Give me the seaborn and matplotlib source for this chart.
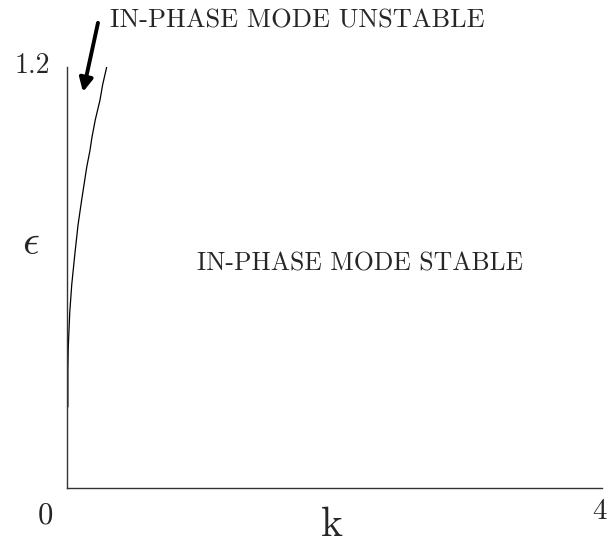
import matplotlib
matplotlib.use("Agg")
import matplotlib.pyplot as plt
import seaborn as sns

# boundary curve
k_boundary = [0.010, 0.010, 0.013, 0.024, 0.039, 0.063, 0.086, 0.113,
              0.151, 0.175, 0.190, 0.215, 0.25, 0.27, 0.30]
eps_boundary = [0.231, 0.336, 0.402, 0.500, 0.580, 0.670, 0.750, 0.821,
                0.915, 0.962, 1.000, 1.050, 1.106, 1.150, 1.2]

x_tick_labels = ["0", "4"]
y_top_label = "1.2"
label_unstable = "IN-PHASE MODE UNSTABLE"
label_stable = "IN-PHASE MODE STABLE"

sns.set_style("white")
plt.rcParams["font.family"] = ["cmr10", "DejaVu Serif"]
plt.rcParams["mathtext.fontset"] = "cm"
plt.rcParams["axes.formatter.use_mathtext"] = True

fig = plt.figure(figsize=(6.16, 5.46), dpi=100)
ax = fig.add_axes([0.108, 0.1062, 0.8693, 0.771])

sns.lineplot(x=k_boundary, y=eps_boundary, sort=False, estimator=None,
             color="black", linewidth=0.9, ax=ax)

ax.set_xlim(0, 4)
ax.set_ylim(0, 1.2)
ax.set_xticks([])
ax.set_yticks([])
for side in ["top", "right"]:
    ax.spines[side].set_visible(False)
for side in ["left", "bottom"]:
    ax.spines[side].set_color("#333333")
    ax.spines[side].set_linewidth(1.0)

# hand placed tick labels, like the original
ax.text(-0.16, -0.08, x_tick_labels[0], fontsize=22, ha="center", va="center", clip_on=False)
ax.text(3.984, -0.068, x_tick_labels[1], fontsize=21, ha="center", va="center", clip_on=False)
ax.text(-0.258, 1.203, y_top_label, fontsize=20, ha="center", va="center", clip_on=False)

ax.text(-0.265, 0.698, r"$\epsilon$", fontsize=30, ha="center", va="center", clip_on=False)
ax.text(1.98, -0.138, "k", fontsize=30, ha="center", va="baseline", clip_on=False)

ax.text(0.975, 0.639, label_stable, fontsize=18.5, ha="left", va="center")
ax.text(0.325, 1.331, label_unstable, fontsize=19, ha="left", va="center", clip_on=False)
ax.annotate("", xy=(0.123, 1.129), xytext=(0.235, 1.326),
            arrowprops=dict(arrowstyle="-|>", color="black", lw=2.8,
                            mutation_scale=20, shrinkA=0, shrinkB=0),
            annotation_clip=False)

fig.savefig("out.png", dpi=100)
